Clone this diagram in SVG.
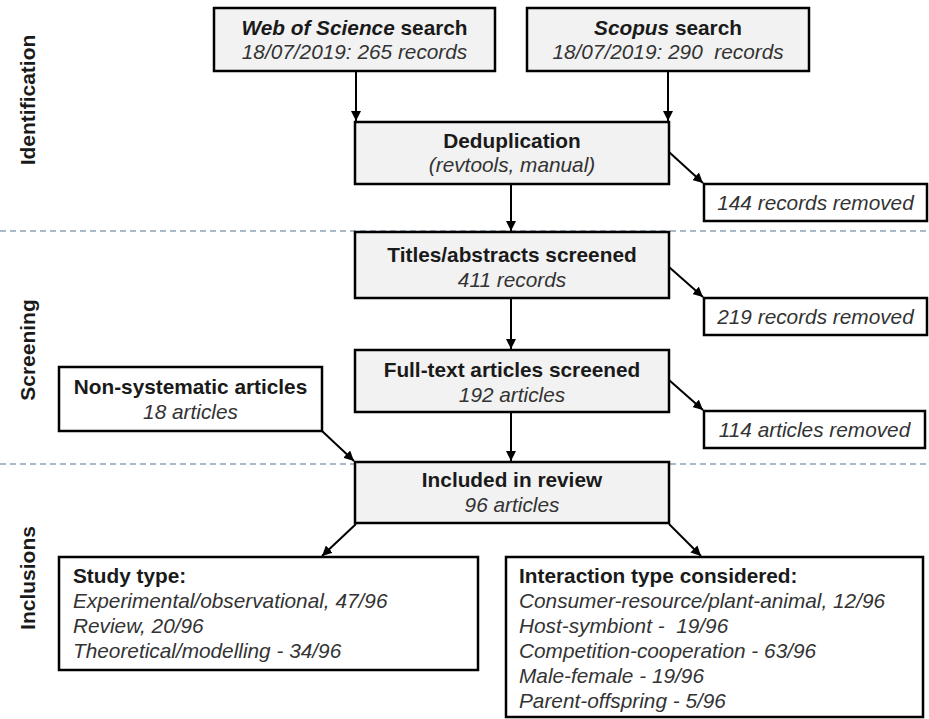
<svg xmlns="http://www.w3.org/2000/svg" width="929" height="719" viewBox="0 0 929 719">
<defs>
<marker id="ah" viewBox="0 0 10 10" refX="10" refY="5" markerWidth="5" markerHeight="5" orient="auto" markerUnits="strokeWidth">
<path d="M0,0 L10,5 L0,10 z" fill="#000"/>
</marker>
<style>
text{font-family:"Liberation Sans",Arial,sans-serif;font-size:20.8px;fill:#1a1a1a}
.b{font-weight:bold}
.i{font-style:italic;fill:#333}
.c{text-anchor:middle}
.ph{font-weight:bold;font-size:21px;text-anchor:middle}
.g{fill:#f2f2f2;stroke:#000;stroke-width:2.5}
.w{fill:#fff;stroke:#000;stroke-width:2.5}
.dash{stroke:#8fa3b6;stroke-width:1.5;stroke-dasharray:6 4;fill:none}
.ar{stroke:#000;stroke-width:2;fill:none;marker-end:url(#ah)}
</style>
</defs>
<rect width="929" height="719" fill="#fff"/>
<g id="phases">
<text class="ph" transform="translate(35,100) rotate(-90)">Identification</text>
<text class="ph" transform="translate(35,350) rotate(-90)">Screening</text>
<text class="ph" transform="translate(35,578) rotate(-90)">Inclusions</text>
</g>
<g id="dividers">
<line class="dash" x1="0" y1="231" x2="929" y2="231"/>
<line class="dash" x1="0" y1="464" x2="929" y2="464"/>
</g>
<g id="connectors">
<line class="ar" x1="356" y1="71" x2="356" y2="121"/>
<line class="ar" x1="668" y1="71" x2="668" y2="121"/>
<line class="ar" x1="511" y1="184" x2="511" y2="231"/>
<line class="ar" x1="669" y1="152" x2="703" y2="183"/>
<line class="ar" x1="511" y1="298" x2="511" y2="349"/>
<line class="ar" x1="669" y1="267" x2="703" y2="297"/>
<line class="ar" x1="511" y1="412" x2="511" y2="461"/>
<line class="ar" x1="669" y1="380" x2="703" y2="410"/>
<line class="ar" x1="322" y1="431" x2="354" y2="461"/>
<line class="ar" x1="356" y1="524" x2="322" y2="556"/>
<line class="ar" x1="669" y1="524" x2="701" y2="556"/>
</g>
<g id="wos">
<rect class="g" x="214" y="8" width="281" height="63"/>
<text class="c" x="354.5" y="35"><tspan class="b i" style="fill:#1a1a1a">Web of Science</tspan><tspan class="b"> search</tspan></text>
<text class="c i" x="354.5" y="59">18/07/2019: 265 records</text>
</g>
<g id="scopus">
<rect class="g" x="527" y="8" width="282" height="63"/>
<text class="c" x="668" y="35"><tspan class="b i" style="fill:#1a1a1a">Scopus</tspan><tspan class="b"> search</tspan></text>
<text class="c i" x="668" y="59" xml:space="preserve">18/07/2019: 290  records</text>
</g>
<g id="dedup">
<rect class="g" x="355" y="122" width="314" height="62"/>
<text class="c b" x="512" y="148">Deduplication</text>
<text class="c i" x="512" y="172">(revtools, manual)</text>
</g>
<g id="removed1">
<rect class="w" x="704" y="184" width="223" height="37"/>
<text class="c i" x="815.5" y="210">144 records removed</text>
</g>
<g id="titles">
<rect class="g" x="355" y="232" width="314" height="66"/>
<text class="c b" x="512" y="262">Titles/abstracts screened</text>
<text class="c i" x="512" y="287">411 records</text>
</g>
<g id="removed2">
<rect class="w" x="704" y="298" width="223" height="37"/>
<text class="c i" x="815.5" y="324">219 records removed</text>
</g>
<g id="fulltext">
<rect class="g" x="355" y="350" width="314" height="62"/>
<text class="c b" x="512" y="377">Full-text articles screened</text>
<text class="c i" x="512" y="402">192 articles</text>
</g>
<g id="removed3">
<rect class="w" x="704" y="411" width="221" height="37"/>
<text class="c i" x="814.5" y="437">114 articles removed</text>
</g>
<g id="nonsys">
<rect class="w" x="59" y="367" width="263" height="64"/>
<text class="c b" x="190.5" y="394">Non-systematic articles</text>
<text class="c i" x="190.5" y="419">18 articles</text>
</g>
<g id="included">
<rect class="g" x="355" y="462" width="314" height="61"/>
<text class="c b" x="512" y="487">Included in review</text>
<text class="c i" x="512" y="512">96 articles</text>
</g>
<g id="studytype">
<rect class="w" x="59" y="557" width="419" height="113"/>
<text class="b" x="73" y="583">Study type:</text>
<text class="i" x="73" y="608">Experimental/observational, 47/96</text>
<text class="i" x="73" y="633">Review, 20/96</text>
<text class="i" x="73" y="658">Theoretical/modelling - 34/96</text>
</g>
<g id="interaction">
<rect class="w" x="506" y="557" width="417" height="160"/>
<text class="b" x="519" y="583">Interaction type considered:</text>
<text class="i" x="519" y="608">Consumer-resource/plant-animal, 12/96</text>
<text class="i" x="519" y="633" xml:space="preserve">Host-symbiont -  19/96</text>
<text class="i" x="519" y="658">Competition-cooperation - 63/96</text>
<text class="i" x="519" y="683">Male-female - 19/96</text>
<text class="i" x="519" y="708">Parent-offspring - 5/96</text>
</g>
</svg>
